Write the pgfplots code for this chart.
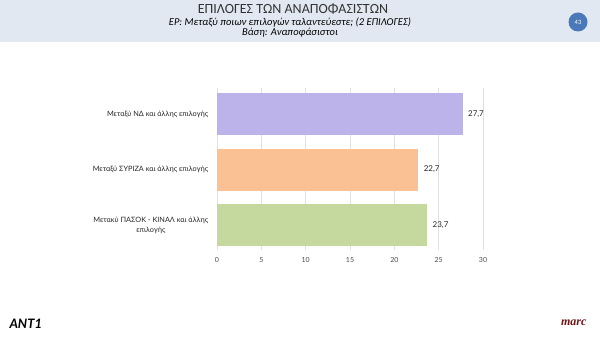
\documentclass[border=0pt]{standalone}
\usepackage{pgfplots}
\pgfplotsset{compat=1.18}
\usepackage{fontspec}
\setmainfont{Lato}
\newfontfamily\titlefont{Carlito}
\definecolor{hdr}{HTML}{E1E8F1}
\definecolor{badge}{HTML}{4A78B8}
\definecolor{cnd}{HTML}{BBB3E9}
\definecolor{csy}{HTML}{F9C194}
\definecolor{cpa}{HTML}{C5D89E}
\definecolor{marcred}{HTML}{6E1418}
\begin{document}
\begin{tikzpicture}[x=1pt,y=1pt]
\fill[white] (0,0) rectangle (600,348);
\fill[hdr] (0,306) rectangle (600,348);
\node[font=\titlefont\fontsize{14}{15}\selectfont,text=black!80] at (293,339) {ΕΠΙΛΟΓΕΣ ΤΩΝ ΑΝΑΠΟΦΑΣΙΣΤΩΝ};
\node[font=\titlefont\itshape\fontsize{10.5}{11}\selectfont] at (290,325) {ΕΡ: Μεταξύ ποιων επιλογών ταλαντεύεστε; (2 ΕΠΙΛΟΓΕΣ)};
\node[font=\titlefont\itshape\fontsize{10.5}{11}\selectfont] at (290,315) {Βάση: Αναποφάσιστοι};
\fill[badge] (578,326) circle (9.5);
\node[white,font=\titlefont\fontsize{6.5}{7}\selectfont] at (578,326) {43};
\node[font=\bfseries\itshape\fontsize{13}{13}\selectfont,anchor=west] at (6,24) {ANT1};
\node[font=\fontspec{Liberation Serif}\bfseries\itshape\fontsize{12}{12}\selectfont,text=marcred,anchor=east] at (590,25) {marc};
\begin{axis}[
  at={(217pt,98pt)}, anchor=south west,
  scale only axis, width=266pt, height=162pt,
  xbar, bar width=42pt, bar shift=0pt,
  xmin=0, xmax=30, ymin=-0.47, ymax=2.45, y dir=reverse,
  xtick={0,5,...,30},
  ytick={0,1,2},
  yticklabels={{Μεταξύ ΝΔ και άλλης επιλογής},{Μεταξύ ΣΥΡΙΖΑ και άλλης επιλογής},{Μετακύ ΠΑΣΟΚ - ΚΙΝΑΛ και άλλης\\επιλογής}},
  yticklabel style={align=center,font=\fontsize{7.3}{10}\selectfont,text=black!85, xshift=-1pt},
  xticklabel style={font=\fontsize{7}{8}\selectfont,text=black!70, yshift=-4pt},
  /pgf/number format/assume math mode=true,
  axis line style={draw=none},
  major tick style={draw=none},
  xmajorgrids, grid style={draw=black!12, line width=0.6pt},
  nodes near coords={\pgfmathprintnumber[fixed,precision=1,zerofill,use comma]{\pgfplotspointmeta}},
  nodes near coords style={font=\fontsize{8}{9}\selectfont,text=black!85, xshift=2pt},
]
\addplot[draw=none, fill=cnd] coordinates {(27.7,0)};
\addplot[draw=none, fill=csy] coordinates {(22.7,1)};
\addplot[draw=none, fill=cpa] coordinates {(23.7,2)};
\end{axis}
\end{tikzpicture}
\end{document}
